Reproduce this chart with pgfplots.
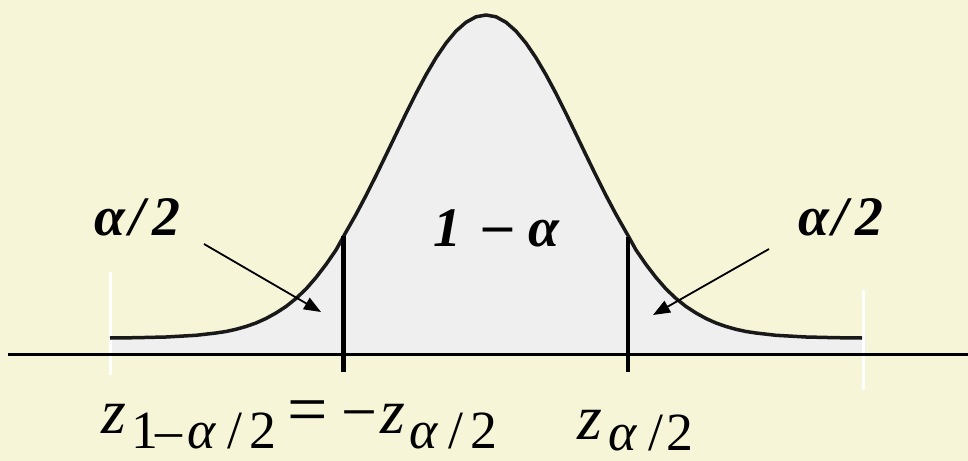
\documentclass[border=0pt]{standalone}
\usepackage{pgfplots}
\pgfplotsset{compat=1.18}
\usepackage{pgfplotstable}
\usepackage{fontspec}
\setmainfont{Liberation Serif}
\usetikzlibrary{arrows.meta}
\definecolor{bg}{RGB}{247,245,215}
\definecolor{shade}{RGB}{239,239,239}
\pgfplotstableread{
x y
110 338
136 337.7
166 337.0
196 335.3
216 333.0
226 331.5
236 329.3
246 326.5
256 323.0
266 318.5
276 313.0
286 306.5
296 298.5
306 289.0
316 277.5
326 264.5
336 250.0
346 232.0
356 214.4
366 195.5
376 175.6
386 155.0
396 134.2
406 113.5
416 93.5
426 74.8
436 57.8
446 43.1
456 31.1
466 22.3
476 16.8
486 15.0
496 16.8
506 22.3
516 31.1
526 43.1
536 57.8
546 74.8
556 93.5
566 113.5
576 134.2
586 155.0
596 175.6
606 195.5
616 214.4
626 232.0
636 250.0
646 264.5
656 277.5
666 289.0
676 298.5
686 306.5
696 313.0
706 318.5
716 323.0
726 326.5
736 329.3
746 331.5
756 333.0
776 335.3
806 337.0
836 337.7
862 338
}\curve
\pgfplotstableread{
x y
110 354
110 338
136 337.7
166 337.0
196 335.3
216 333.0
226 331.5
236 329.3
246 326.5
256 323.0
266 318.5
276 313.0
286 306.5
296 298.5
306 289.0
316 277.5
326 264.5
336 250.0
346 232.0
356 214.4
366 195.5
376 175.6
386 155.0
396 134.2
406 113.5
416 93.5
426 74.8
436 57.8
446 43.1
456 31.1
466 22.3
476 16.8
486 15.0
496 16.8
506 22.3
516 31.1
526 43.1
536 57.8
546 74.8
556 93.5
566 113.5
576 134.2
586 155.0
596 175.6
606 195.5
616 214.4
626 232.0
636 250.0
646 264.5
656 277.5
666 289.0
676 298.5
686 306.5
696 313.0
706 318.5
716 323.0
726 326.5
736 329.3
746 331.5
756 333.0
776 335.3
806 337.0
836 337.7
862 338
866 338
866 354
}\area
\pgfplotstableread{
x y
343.5 236
343.5 372
}\vleft
\pgfplotstableread{
x y
628 237
628 372
}\vright
\pgfplotstableread{
x y
8 354
968 354
}\baseline
\pgfplotstableread{
x y
110 272
110 375
}\wleft
\pgfplotstableread{
x y
863 290
863 390
}\wright
\begin{document}
\begin{tikzpicture}[
  g/.style={anchor=base, inner sep=0pt, font=\fontsize{#1}{#1}\selectfont},
  bi/.style={anchor=base, inner sep=0pt, font=\fontsize{56}{56}\selectfont\bfseries\itshape},
]
\begin{axis}[
  scale only axis, width=968bp, height=461bp,
  xmin=0, xmax=968, ymin=0, ymax=461, y dir=reverse,
  hide axis, clip=true,
]
\fill[bg] (axis cs:0,0) rectangle (axis cs:968,461);
\coordinate (BL) at (axis cs:0,461);
\coordinate (TR) at (axis cs:968,0);
\addplot[draw=none, fill=shade] table {\area};
\addplot[white, line width=3bp] table {\wleft};
\addplot[white, line width=3bp] table {\wright};
\addplot[black, line width=3bp] table {\baseline};
\addplot[black!90, line width=3.5bp, line join=round] table {\curve};
\addplot[black, line width=4.5bp] table {\vleft};
\addplot[black, line width=4.5bp] table {\vright};
\draw[line width=1.8bp, -{Triangle[length=17bp,width=13bp]}] (axis cs:204,244) -- (axis cs:321,312);
\draw[line width=1.8bp, -{Triangle[length=17bp,width=13bp]}] (axis cs:769,249) -- (axis cs:653,315);
% bold italic labels
\node[bi] at (axis cs:110,235) {α};
\node[bi] at (axis cs:137,235) {/};
\node[bi] at (axis cs:166.5,235) {2};
\node[bi] at (axis cs:813.5,235) {α};
\node[bi] at (axis cs:840,235) {/};
\node[bi] at (axis cs:869,235) {2};
\node[bi] at (axis cs:447.5,246) {1};
\node[g=58] at (axis cs:498,243) {\bfseries –};
\node[bi] at (axis cs:543.5,246) {α};
% bottom left label
\node[g=64] at (axis cs:114,433) {\itshape z};
\node[g=54] at (axis cs:144.5,448) {1};
\node[g=54] at (axis cs:169,448) {–};
\node[g=54] at (axis cs:201.5,448) {\itshape α};
\node[g=54] at (axis cs:235,448) {/};
\node[g=54] at (axis cs:262.5,448) {2};
\node[g=72] at (axis cs:307.5,433) {=};
\node[g=64] at (axis cs:359,433) {−};
\node[g=64] at (axis cs:392.5,433) {\itshape z};
\node[g=54] at (axis cs:423.5,448) {\itshape α};
\node[g=54] at (axis cs:456,448) {/};
\node[g=54] at (axis cs:483.5,448) {2};
% bottom right label
\node[g=64] at (axis cs:590,439) {\itshape z};
\node[g=54] at (axis cs:622.5,450) {\itshape α};
\node[g=54] at (axis cs:656,450) {/};
\node[g=54] at (axis cs:680,450) {2};
\end{axis}
\pgfresetboundingbox
\path[use as bounding box] (BL) rectangle (TR);
\end{tikzpicture}
\end{document}
